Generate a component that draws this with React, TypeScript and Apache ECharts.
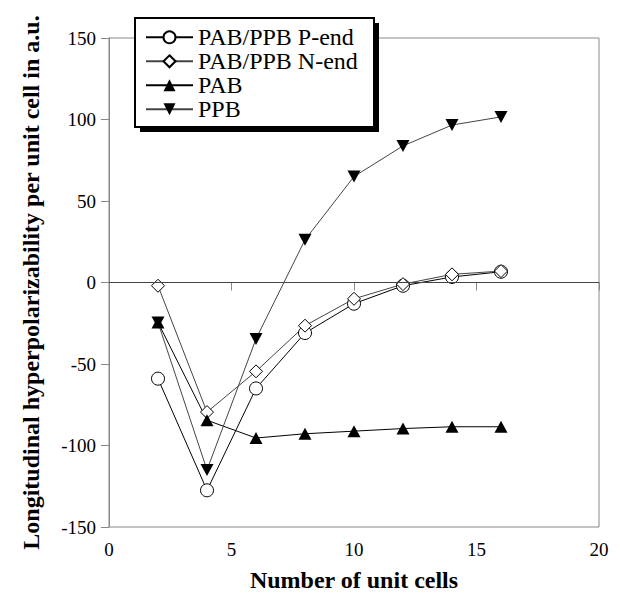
import React, { useEffect, useRef } from "react";
import * as echarts from "echarts";

const unitCells = [2, 4, 6, 8, 10, 12, 14, 16];
const pEnd = [-59, -127.5, -65, -31, -13, -2, 3.4, 6.6];
const nEnd = [-2, -79.5, -54.5, -26.5, -10, -1, 5, 7];
const pab = [-24.5, -84.5, -95.4, -92.8, -91.2, -89.6, -88.5, -88.5];
const ppb = [-24.5, -115, -34.6, 26.2, 65, 83.8, 96.6, 101.6];

const seriesNames = ["PAB/PPB P-end", "PAB/PPB N-end", "PAB", "PPB"];
const xTicks = [0, 20, 5];
const yTicks = [-150, 150, 50];

const FONT = "Liberation Serif";

export default function App() {
  const ref = useRef<HTMLDivElement>(null);
  useEffect(() => {
    if (!ref.current) return;
    const chart = echarts.init(ref.current, null, { renderer: "svg" });
    const pair = (arr: number[]) => arr.map((v, i) => [unitCells[i], v]);
    const invTri = "path://M0,0 L10,0 L5,10 Z";
    chart.setOption({
      animation: false,
      textStyle: { fontFamily: FONT },
      grid: {
        left: 109,
        right: 21,
        top: 38,
        bottom: 59,
        show: true,
        borderColor: "#888",
        borderWidth: 1,
        backgroundColor: "transparent",
      },
      xAxis: {
        type: "value",
        min: xTicks[0],
        max: xTicks[1],
        interval: xTicks[2],
        name: "Number of unit cells",
        nameLocation: "middle",
        nameGap: 41,
        nameTextStyle: { fontFamily: FONT, fontSize: 24, fontWeight: "bold", color: "#000" },
        axisLine: { show: true, lineStyle: { color: "#555", width: 1 } },
        axisTick: { show: true, length: 8, lineStyle: { color: "#888" } },
        axisLabel: { fontFamily: FONT, fontSize: 19, fontWeight: "normal", color: "#000", margin: 13 },
        splitLine: { show: false },
      },
      yAxis: {
        type: "value",
        min: yTicks[0],
        max: yTicks[1],
        interval: yTicks[2],
        name: "Longitudinal hyperpolarizability per unit cell in a.u.",
        nameLocation: "middle",
        nameGap: 66,
        nameTextStyle: { fontFamily: FONT, fontSize: 24, fontWeight: "bold", color: "#000" },
        axisLine: { show: true, lineStyle: { color: "#888", width: 1 } },
        axisTick: { show: true, length: 8, lineStyle: { color: "#888" } },
        axisLabel: { fontFamily: FONT, fontSize: 19, fontWeight: "normal", color: "#000", margin: 13 },
        splitLine: { show: false },
      },
      legend: {
        left: 145,
        top: 25.3,
        orient: "vertical",
        padding: 0,
        itemWidth: 47,
        itemHeight: 15,
        itemGap: 0,
        z: 10,
        textStyle: { fontFamily: FONT, fontSize: 24, fontWeight: "normal", color: "#000" },
        data: seriesNames,
      },
      graphic: [
        { type: "rect", z: 5, shape: { x: 140, y: 23, width: 239, height: 109 }, style: { fill: "#000" } },
        { type: "rect", z: 6, shape: { x: 135, y: 18, width: 239, height: 109 }, style: { fill: "#fff", stroke: "#000", lineWidth: 2 } },
      ],
      series: [
        {
          name: seriesNames[0],
          type: "line",
          data: pair(pEnd),
          symbol: "circle",
          symbolSize: 13,
          lineStyle: { color: "#000", width: 1 },
          itemStyle: { color: "#fff", borderColor: "#000", borderWidth: 1 },
          markLine: {
            silent: true,
            symbol: "none",
            label: { show: false },
            lineStyle: { color: "#444", width: 1, type: "solid" },
            data: [{ yAxis: 0 }],
          },
          z: 2,
        },
        {
          name: seriesNames[1],
          type: "line",
          data: pair(nEnd),
          symbol: "diamond",
          symbolSize: 13,
          lineStyle: { color: "#444", width: 1 },
          itemStyle: { color: "#fff", borderColor: "#000", borderWidth: 1 },
          z: 2,
        },
        {
          name: seriesNames[2],
          type: "line",
          data: pair(pab),
          symbol: "triangle",
          symbolSize: [13, 12],
          lineStyle: { color: "#000", width: 1 },
          itemStyle: { color: "#000" },
          z: 2,
        },
        {
          name: seriesNames[3],
          type: "line",
          data: pair(ppb),
          symbol: invTri,
          symbolSize: [13, 12],
          lineStyle: { color: "#444", width: 1 },
          itemStyle: { color: "#000" },
          z: 2,
        },
      ],
    });
    return () => chart.dispose();
  }, []);
  return <div ref={ref} style={{ width: 620, height: 597, position: "absolute", left: 0, top: 0 }} />;
}
